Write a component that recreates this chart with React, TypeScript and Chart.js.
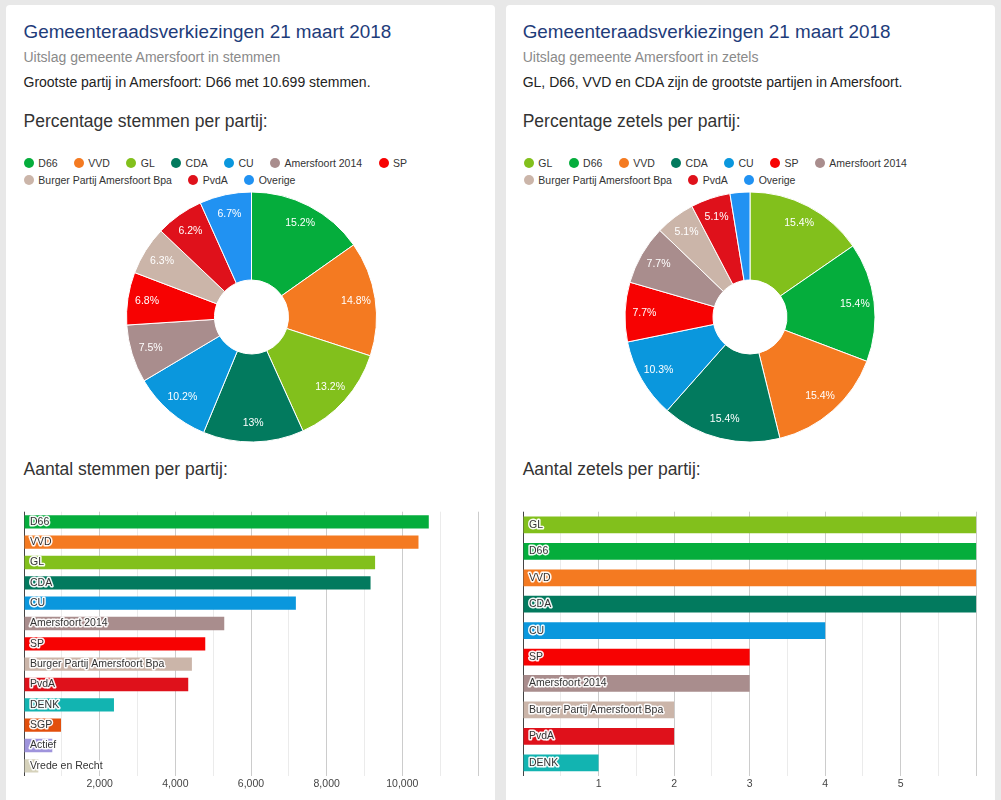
import React, { useEffect, useRef } from "react";
import { Chart, registerables } from "chart.js";

Chart.register(...registerables);

const FONT = '"Liberation Sans", Arial, Helvetica, sans-serif';

// ---- Party colours ----
const partyColors: Record<string, string> = {
  D66: "#05ad3c",
  VVD: "#f47a21",
  GL: "#82c01c",
  CDA: "#027a5e",
  CU: "#0a97dd",
  "Amersfoort 2014": "#a98d8d",
  SP: "#f70202",
  "Burger Partij Amersfoort Bpa": "#cbb5a9",
  PvdA: "#df111b",
  Overige: "#2192f2",
  DENK: "#12b4b1",
  SGP: "#e24f0c",
  Actief: "#9f94dc",
  "Vrede en Recht": "#d6d2bb",
};

// ---- Data: votes ----
const votePieLabels = ["D66", "VVD", "GL", "CDA", "CU", "Amersfoort 2014", "SP", "Burger Partij Amersfoort Bpa", "PvdA", "Overige"];
const votePiePercent = [15.2, 14.8, 13.2, 13, 10.2, 7.5, 6.8, 6.3, 6.2, 6.7];

const voteBarLabels = ["D66", "VVD", "GL", "CDA", "CU", "Amersfoort 2014", "SP", "Burger Partij Amersfoort Bpa", "PvdA", "DENK", "SGP", "Actief", "Vrede en Recht"];
const voteBarValues = [10699, 10427, 9280, 9160, 7186, 5293, 4791, 4438, 4341, 2378, 978, 748, 378];
const voteTickLabels = [2000, 4000, 6000, 8000, 10000];

// ---- Data: seats ----
const seatPieLabels = ["GL", "D66", "VVD", "CDA", "CU", "SP", "Amersfoort 2014", "Burger Partij Amersfoort Bpa", "PvdA", "Overige"];
const seatPieValues = [6, 6, 6, 6, 4, 3, 3, 2, 2, 1];

const seatBarLabels = ["GL", "D66", "VVD", "CDA", "CU", "SP", "Amersfoort 2014", "Burger Partij Amersfoort Bpa", "PvdA", "DENK"];
const seatBarValues = [6, 6, 6, 6, 4, 3, 3, 2, 2, 1];
const seatTickLabels = [1, 2, 3, 4, 5];

// ---- plugins ----
const pieLabelPlugin = {
  id: "pieLabels",
  afterDatasetsDraw(chart: any) {
    const ctx = chart.ctx;
    const meta = chart.getDatasetMeta(0);
    const data = chart.data.datasets[0].data as number[];
    const total = data.reduce((a, b) => a + b, 0);
    ctx.save();
    ctx.font = `10.5px ${FONT}`;
    ctx.fillStyle = "#ffffff";
    ctx.textAlign = "center";
    ctx.textBaseline = "middle";
    meta.data.forEach((arc: any, i: number) => {
      const pct = (data[i] / total) * 100;
      if (pct < 3) return;
      const p = arc.getProps(["x", "y", "startAngle", "endAngle", "outerRadius"], true);
      const mid = (p.startAngle + p.endAngle) / 2;
      const r = p.outerRadius * 0.845;
      ctx.fillText(`${Math.round(pct * 10) / 10}%`, p.x + Math.cos(mid) * r, p.y + Math.sin(mid) * r);
    });
    ctx.restore();
  },
};

const barLabelPlugin = {
  id: "barLabels",
  afterDatasetsDraw(chart: any) {
    const ctx = chart.ctx;
    const meta = chart.getDatasetMeta(0);
    const labels = chart.data.labels as string[];
    ctx.save();
    ctx.font = `10.5px ${FONT}`;
    ctx.textAlign = "left";
    ctx.textBaseline = "middle";
    ctx.lineJoin = "round";
    meta.data.forEach((bar: any, i: number) => {
      const x = chart.chartArea.left + 6;
      const y = bar.y;
      ctx.strokeStyle = "rgba(255,255,255,0.95)";
      ctx.lineWidth = 3;
      ctx.strokeText(labels[i], x, y);
      ctx.fillStyle = "#333333";
      ctx.fillText(labels[i], x, y);
    });
    ctx.restore();
  },
};

// ---- components ----
function PieChart({ labels, values, left, top, width, height }: any) {
  const ref = useRef<HTMLCanvasElement>(null);
  useEffect(() => {
    const chart = new Chart(ref.current!, {
      type: "doughnut",
      data: {
        labels,
        datasets: [
          {
            data: values,
            backgroundColor: labels.map((l: string) => partyColors[l]),
            borderColor: "#ffffff",
            borderWidth: 1,
            radius: 125,
            cutout: "29.6%",
          } as any,
        ],
      },
      options: {
        responsive: false,
        animation: false,
        layout: { padding: 0 },
        plugins: { legend: { display: false }, tooltip: { enabled: false } },
      },
      plugins: [pieLabelPlugin],
    });
    return () => chart.destroy();
  }, []);
  return (
    <canvas
      ref={ref}
      width={width}
      height={height}
      style={{ position: "absolute", left, top, width, height }}
    />
  );
}

function BarChart({ labels, values, max, step, tickLabels, major, left, top, width, height, padding, thickness }: any) {
  const ref = useRef<HTMLCanvasElement>(null);
  useEffect(() => {
    const chart = new Chart(ref.current!, {
      type: "bar",
      data: {
        labels,
        datasets: [
          {
            data: values,
            backgroundColor: labels.map((l: string) => partyColors[l]),
            borderWidth: 0,
            barPercentage: 1,
            categoryPercentage: thickness,
          },
        ],
      },
      options: {
        indexAxis: "y",
        responsive: false,
        animation: false,
        layout: { padding },
        plugins: { legend: { display: false }, tooltip: { enabled: false } },
        scales: {
          x: {
            min: 0,
            max,
            ticks: {
              stepSize: step,
              autoSkip: false,
              maxRotation: 0,
              padding: 2,
              color: "#444444",
              font: { family: FONT, size: 10.5 },
              callback: (v: any) => (tickLabels.includes(Number(v)) ? Number(v).toLocaleString("en-US") : ""),
            },
            grid: {
              drawTicks: false,
              color: (c: any) => {
                const v = c.tick ? c.tick.value : 0;
                if (v === 0) return "#444444";
                return Math.abs(v / major - Math.round(v / major)) < 1e-6 ? "#cccccc" : "#ebebeb";
              },
            },
            border: { display: false },
          },
          y: { display: false },
        },
      },
      plugins: [barLabelPlugin],
    });
    return () => chart.destroy();
  }, []);
  return (
    <canvas
      ref={ref}
      width={width}
      height={height}
      style={{ position: "absolute", left, top, width, height }}
    />
  );
}

function Legend({ labels, left, top }: any) {
  return (
    <div
      style={{
        position: "absolute",
        left,
        top,
        width: 462,
        display: "flex",
        flexWrap: "wrap",
        columnGap: 16.5,
        font: `10.5px ${FONT}`,
        color: "#333",
      }}
    >
      {labels.map((l: string, i: number) => (
        <div key={i} style={{ display: "flex", alignItems: "center", height: 17 }}>
          <span
            style={{
              width: 10,
              height: 10,
              borderRadius: 5,
              background: partyColors[l],
              marginRight: 4.3,
              flex: "none",
            }}
          />
          <span style={{ whiteSpace: "nowrap" }}>{l}</span>
        </div>
      ))}
    </div>
  );
}

function Txt({ x, baseline, size, color, children }: any) {
  const top = baseline - 0.8465 * size;
  return (
    <div
      style={{
        position: "absolute",
        left: x,
        top,
        fontFamily: FONT,
        fontSize: size,
        lineHeight: `${size}px`,
        color,
        whiteSpace: "nowrap",
      }}
    >
      {children}
    </div>
  );
}

function Card({ left }: any) {
  return (
    <div
      style={{
        position: "absolute",
        left,
        top: 5,
        width: 489,
        height: 820,
        background: "#ffffff",
        borderRadius: 4,
      }}
    />
  );
}

export default function App() {
  const L = 23.5;
  const R = 522.7;
  return (
    <div style={{ position: "fixed", left: 0, top: 0, width: 1001, height: 800, background: "#e8e8e8", overflow: "hidden" }}>
      <Card left={6} />
      <Card left={505.5} />

      <Txt x={L} baseline={39.3} size={18.85} color="#1e3c7a">Gemeenteraadsverkiezingen 21 maart 2018</Txt>
      <Txt x={L} baseline={62.3} size={14} color="#8a8a8a">Uitslag gemeente Amersfoort in stemmen</Txt>
      <Txt x={L} baseline={87.2} size={14} color="#222">Grootste partij in Amersfoort: D66 met 10.699 stemmen.</Txt>
      <Txt x={L} baseline={127.5} size={17.5} color="#333">Percentage stemmen per partij:</Txt>
      <Legend labels={votePieLabels} left={24} top={154.8} />
      <PieChart labels={votePieLabels} values={votePiePercent} left={24} top={190} width={455} height={254} />
      <Txt x={L} baseline={475.5} size={17.5} color="#333">Aantal stemmen per partij:</Txt>
      <BarChart
        labels={voteBarLabels}
        values={voteBarValues}
        max={12000}
        step={1000}
        major={2000}
        tickLabels={voteTickLabels}
        left={14}
        top={500}
        width={476}
        height={300}
        padding={{ left: 10, right: 12, top: 11.7, bottom: 7.4 }}
        thickness={0.657}
      />

      <Txt x={R} baseline={39.3} size={18.85} color="#1e3c7a">Gemeenteraadsverkiezingen 21 maart 2018</Txt>
      <Txt x={R} baseline={62.3} size={14} color="#8a8a8a">Uitslag gemeente Amersfoort in zetels</Txt>
      <Txt x={R} baseline={87.2} size={14} color="#222">GL, D66, VVD en CDA zijn de grootste partijen in Amersfoort.</Txt>
      <Txt x={R} baseline={127.5} size={17.5} color="#333">Percentage zetels per partij:</Txt>
      <Legend labels={seatPieLabels} left={524} top={154.8} />
      <PieChart labels={seatPieLabels} values={seatPieValues} left={522.7} top={190} width={454} height={254} />
      <Txt x={R} baseline={475.5} size={17.5} color="#333">Aantal zetels per partij:</Txt>
      <BarChart
        labels={seatBarLabels}
        values={seatBarValues}
        max={6}
        step={0.5}
        major={1}
        tickLabels={seatTickLabels}
        left={512.7}
        top={500}
        width={476}
        height={300}
        padding={{ left: 10, right: 12.7, top: 11.7, bottom: 7.4 }}
        thickness={0.634}
      />
    </div>
  );
}
